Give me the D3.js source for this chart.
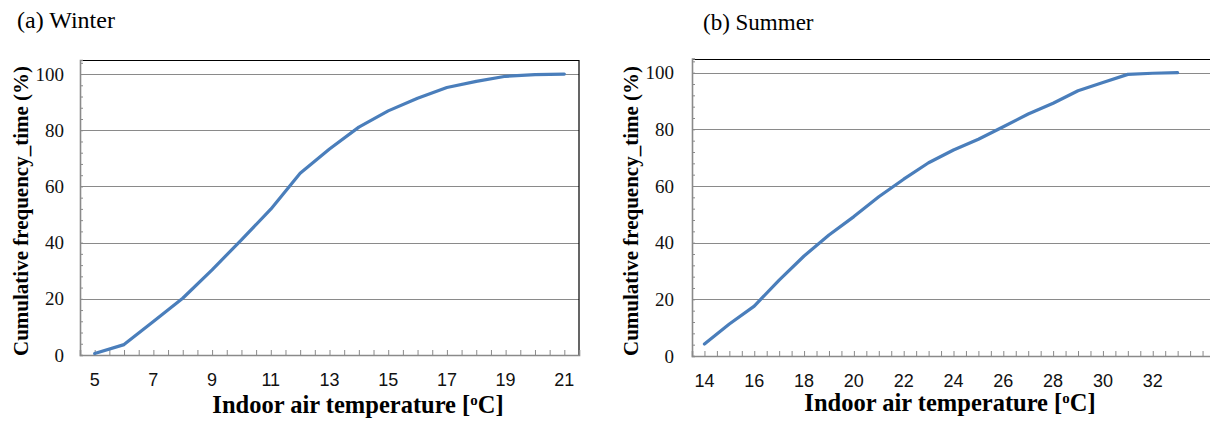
<!DOCTYPE html>
<html>
<head>
<meta charset="utf-8">
<script src="https://cdn.jsdelivr.net/npm/d3@7"></script>
<style>
  html, body { margin: 0; padding: 0; background: #fff; }
  svg { display: block; }
</style>
</head>
<body>
<svg id="chart" width="1210" height="421"></svg>
<script>
// Cumulative frequency of time vs indoor air temperature
const winterTemps = [5, 6, 7, 8, 9, 10, 11, 12, 13, 14, 15, 16, 17, 18, 19, 20, 21];
const winterCum   = [0.5, 3.7, 11.9, 20.2, 30.3, 41, 51.9, 64.7, 73.3, 81.1, 86.9, 91.4, 95.2, 97.4, 99.2, 99.8, 100];

const summerTemps = [14, 15, 16, 17, 18, 19, 20, 21, 22, 23, 24, 25, 26, 27, 28, 29, 30, 31, 32, 33];
const summerCum   = [4.2, 11.3, 17.6, 26.8, 35.3, 42.7, 49.2, 56.2, 62.4, 68.2, 72.7, 76.5, 80.9, 85.4, 89.2, 93.6, 96.5, 99.4, 99.8, 100];

const winterTicks = [5, 7, 9, 11, 13, 15, 17, 19, 21];
const summerTicks = [14, 16, 18, 20, 22, 24, 26, 28, 30, 32];
const yTicks = [0, 20, 40, 60, 80, 100];

const panelTitles = ["(a) Winter", "(b) Summer"];
const yTitle = "Cumulative frequency_time (%)";

const svg = d3.select("#chart");
const LINE = "#4a7ebb";
const GRID = "#8a8a8a";
const SERIF = "'Liberation Serif', 'Times New Roman', serif";
const SANS = "'Liberation Sans', Arial, sans-serif";

function drawPanel(o) {
  const g = svg.append("g");
  const x = d3.scaleLinear().domain(o.xDomain).range([o.left, o.right]);
  const y = d3.scaleLinear().domain([0, 105]).range([o.bottom, o.top]);

  // horizontal gridlines
  g.append("g").selectAll("line").data(yTicks.filter(d => d > 0)).join("line")
    .attr("x1", o.left).attr("x2", o.right)
    .attr("y1", d => Math.round(y(d)) + 0.5).attr("y2", d => Math.round(y(d)) + 0.5)
    .attr("stroke", GRID).attr("stroke-width", 1.2);

  // frame: top and right in black
  g.append("path")
    .attr("d", `M${o.left},${Math.round(o.top) + 0.5}H${o.right}V${o.bottom}`)
    .attr("fill", "none").attr("stroke", "#000").attr("stroke-width", 1.2);

  // y axis: gray line, minor ticks every 4 pointing inward
  const yAxis = d3.axisRight(y).tickValues(d3.range(0, 105, 4)).tickSize(3).tickFormat("");
  const ya = g.append("g").attr("transform", `translate(${o.left},0)`).call(yAxis);
  ya.select(".domain").attr("stroke", GRID).attr("stroke-width", 1.6);
  ya.selectAll(".tick line").attr("stroke", GRID);

  // y tick labels
  g.append("g").selectAll("text").data(yTicks).join("text")
    .attr("x", o.left - o.yLabelGap).attr("y", d => y(d)).attr("dy", "0.35em")
    .attr("text-anchor", "end")
    .style("font-family", SERIF).style("font-size", "19px").attr("fill", "#111")
    .text(d => d);

  // x axis: ticks every 0.5 pointing upward
  const xAxis = d3.axisTop(x)
    .tickValues(d3.range(o.xDomain[0] + 0.5, o.xDomain[1] + 0.01, 0.5))
    .tickSize(5).tickFormat("");
  const xa = g.append("g").attr("transform", `translate(0,${o.bottom})`).call(xAxis);
  xa.select(".domain").attr("stroke", GRID).attr("stroke-width", 1.6);
  xa.selectAll(".tick line").attr("stroke", GRID);

  // x tick labels
  g.append("g").selectAll("text").data(o.xTicks).join("text")
    .attr("x", d => x(d)).attr("y", o.xLabelBase)
    .attr("text-anchor", "middle")
    .style("font-family", SANS).style("font-size", "18px").attr("fill", "#111")
    .text(d => d);

  // data line
  const line = d3.line().x(d => x(d[0])).y(d => y(d[1]));
  g.append("path")
    .datum(d3.zip(o.temps, o.values))
    .attr("d", line)
    .attr("fill", "none").attr("stroke", LINE).attr("stroke-width", 3.2)
    .attr("stroke-linejoin", "round").attr("stroke-linecap", "round");

  // y axis title
  g.append("text")
    .attr("transform", `translate(${o.yTitleX},${o.yTitleY}) rotate(-90)`)
    .attr("text-anchor", "middle")
    .style("font-family", SERIF).style("font-size", "21px").style("font-weight", "bold")
    .attr("fill", "#000")
    .text(yTitle);

  // x axis title with superscript o
  const xt = g.append("text")
    .attr("x", o.xTitleX).attr("y", o.xTitleBase)
    .attr("text-anchor", "middle")
    .style("font-family", SERIF).style("font-size", "24.5px").style("font-weight", "bold")
    .attr("fill", "#000");
  xt.append("tspan").text("Indoor air temperature [");
  xt.append("tspan").attr("dy", -8).style("font-size", "15px").text("o");
  xt.append("tspan").attr("dy", 8).text("C]");

  // panel title
  g.append("text")
    .attr("x", o.titleX).attr("y", o.titleBase)
    .style("font-family", SERIF).style("font-size", o.titleSize).attr("fill", "#000")
    .text(o.title);
}

drawPanel({
  temps: winterTemps, values: winterCum, xTicks: winterTicks,
  xDomain: [4.5, 21.5], left: 80, right: 579, top: 60, bottom: 355,
  yLabelGap: 16, xLabelBase: 386, yTitleX: 28, yTitleY: 211,
  xTitleX: 358, xTitleBase: 413, titleX: 17, titleBase: 28, titleSize: "24px", title: panelTitles[0]
});

drawPanel({
  temps: summerTemps, values: summerCum, xTicks: summerTicks,
  xDomain: [13.5, 34.5], left: 692, right: 1215, top: 58.5, bottom: 356,
  yLabelGap: 18, xLabelBase: 387, yTitleX: 638, yTitleY: 211,
  xTitleX: 950, xTitleBase: 411, titleX: 703, titleBase: 30, titleSize: "23px", title: panelTitles[1]
});
</script>
</body>
</html>
